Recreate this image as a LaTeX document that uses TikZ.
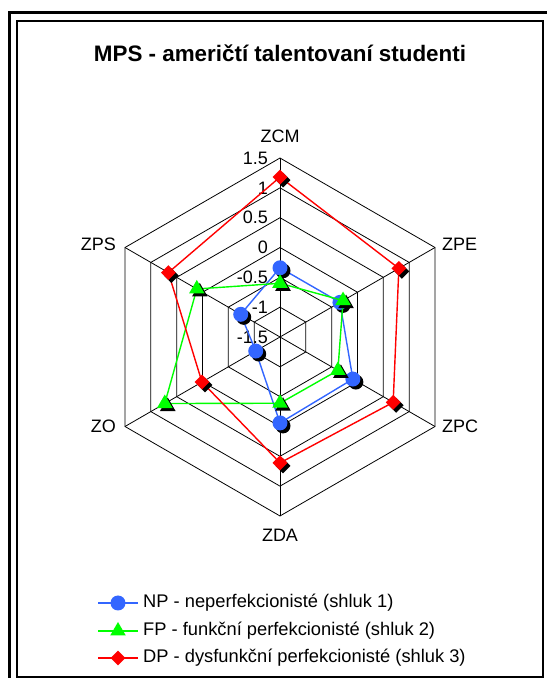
\documentclass[tikz,border=0pt]{standalone}
\usepackage{fontspec}
\setmainfont{Liberation Sans}
\usetikzlibrary{positioning,shapes.geometric,shadows}

\definecolor{npblue}{RGB}{51,102,255}
\definecolor{fpgreen}{RGB}{0,255,0}
\definecolor{dpred}{RGB}{255,0,0}

% value on the scale -> distance from the centre
\newcommand{\rad}[1]{(#1+1.5)*59.67}

\begin{document}
\begin{tikzpicture}[x=1pt,y=1pt]
  \tikzstyle{grid}=[draw=black,line width=0.8pt]
  \tikzstyle{series}=[line width=1.4pt]
  \tikzstyle{lab}=[inner sep=0pt,font=\fontsize{18}{21}\selectfont]
  \tikzstyle{leg}=[inner sep=0pt,anchor=west,font=\fontsize{18.3}{21}\selectfont]
  \tikzstyle{mshadow}=[general shadow={fill=black,shadow xshift=3pt,shadow yshift=-3pt}]
  \tikzstyle{npmark}=[circle,fill=npblue,minimum size=15pt,inner sep=0pt]
  \tikzstyle{fpmark}=[regular polygon,regular polygon sides=3,fill=fpgreen,minimum size=18pt,inner sep=0pt]
  \tikzstyle{dpmark}=[diamond,fill=dpred,minimum size=15pt,inner sep=0pt]

  \useasboundingbox (0,0) rectangle (547,678);

  % frame
  \path[draw,line width=3pt] (9,0) -- (9,665) -- (547,665);
  \path[draw,line width=1.2pt] (17,1) rectangle (543,657);

  \node[font=\bfseries\fontsize{22.4}{26}\selectfont] (title) at (280,625) {MPS - američtí talentovaní studenti};

  \begin{scope}[shift={(280,341)}]
    \coordinate (c) at (0,0);
    \coordinate (zcm) at (90:179);
    \coordinate (zpe) at (30:179);
    \coordinate (zpc) at (-30:179);
    \coordinate (zda) at (-90:179);
    \coordinate (zo) at (-150:179);
    \coordinate (zps) at (150:179);

    % rings and spokes
    \foreach \k in {1,...,6}
      \path[grid] (90:{\k*29.83}) -- (30:{\k*29.83}) -- (-30:{\k*29.83}) -- (-90:{\k*29.83}) -- (-150:{\k*29.83}) -- (150:{\k*29.83}) -- cycle;
    \foreach \a in {zcm,zpe,zpc,zda,zo,zps}
      \path[grid] (c) -- (\a);

    % scale
    \foreach \v/\k in {-1.5/0,-1/1,-0.5/2,0/3,0.5/4,1/5,1.5/6}
      \node[lab,anchor=east] (val\k) at (-12,{\k*29.83}) {\v};

    \node[lab,above=15pt of zcm] (lzcm) {ZCM};
    \node[lab,right=7pt of zpe,yshift=3pt] (lzpe) {ZPE};
    \node[lab,right=7pt of zpc] (lzpc) {ZPC};
    \node[lab,below=13pt of zda] (lzda) {ZDA};
    \node[lab,left=9pt of zo] (lzo) {ZO};
    \node[lab,left=9pt of zps,yshift=3pt] (lzps) {ZPS};

    % NP
    \coordinate (np1) at (90:{\rad{-0.34}});
    \coordinate (np2) at (30:{\rad{-0.34}});
    \coordinate (np3) at (-30:{\rad{-0.09}});
    \coordinate (np4) at (-90:{\rad{-0.06}});
    \coordinate (np5) at (-150:{\rad{-1.03}});
    \coordinate (np6) at (150:{\rad{-0.74}});
    \path[draw,npblue,series] (np1) -- (np2) -- (np3) -- (np4) -- (np5) -- (np6) -- cycle;
    \foreach \i in {1,...,6}
      \node[npmark,mshadow] (npm\i) at (np\i) {};

    % FP
    \coordinate (fp1) at (90:{\rad{-0.6}});
    \coordinate (fp2) at (30:{\rad{-0.28}});
    \coordinate (fp3) at (-30:{\rad{-0.38}});
    \coordinate (fp4) at (-90:{\rad{-0.39}});
    \coordinate (fp5) at (-150:{\rad{0.73}});
    \coordinate (fp6) at (150:{\rad{0.11}});
    \path[draw,fpgreen,series] (fp1) -- (fp2) -- (fp3) -- (fp4) -- (fp5) -- (fp6) -- cycle;
    \foreach \i in {1,...,6}
      \node[fpmark,mshadow] (fpm\i) at (fp\i) {};

    % DP
    \coordinate (dp1) at (90:{\rad{1.18}});
    \coordinate (dp2) at (30:{\rad{0.8}});
    \coordinate (dp3) at (-30:{\rad{0.69}});
    \coordinate (dp4) at (-90:{\rad{0.61}});
    \coordinate (dp5) at (-150:{\rad{0.01}});
    \coordinate (dp6) at (150:{\rad{0.66}});
    \path[draw,dpred,series] (dp1) -- (dp2) -- (dp3) -- (dp4) -- (dp5) -- (dp6) -- cycle;
    \foreach \i in {1,...,6}
      \node[dpmark,mshadow] (dpm\i) at (dp\i) {};
  \end{scope}

  % legend
  \coordinate (npa) at (98,75);  \coordinate (npb) at (138,75);
  \coordinate (fpa) at (98,47);  \coordinate (fpb) at (138,47);
  \coordinate (dpa) at (98,20);  \coordinate (dpb) at (138,20);
  \path[draw,npblue,series] (npa) -- (npb);
  \path[draw,fpgreen,series] (fpa) -- (fpb);
  \path[draw,dpred,series] (dpa) -- (dpb);
  \node[npmark] (npl) at (118,75) {};
  \node[fpmark] (fpl) at (118,47) {};
  \node[dpmark] (dpl) at (118,20) {};
  \node[leg] (npt) at (143,75) {NP - neperfekcionisté (shluk 1)};
  \node[leg] (fpt) at (143,47) {FP - funkční perfekcionisté (shluk 2)};
  \node[leg] (dpt) at (143,20) {DP - dysfunkční perfekcionisté (shluk 3)};
\end{tikzpicture}
\end{document}
